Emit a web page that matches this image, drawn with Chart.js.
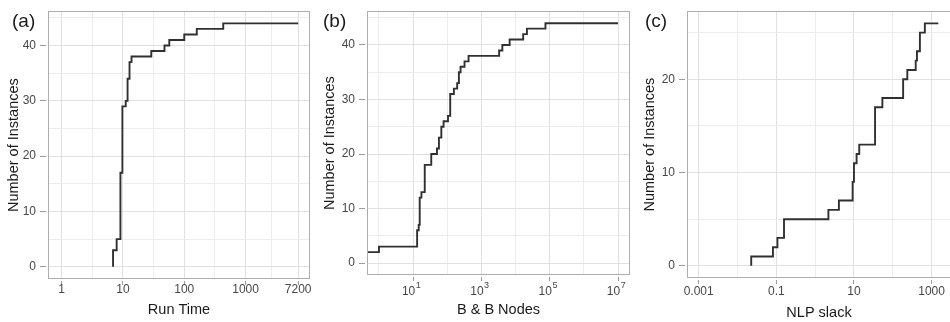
<!DOCTYPE html>
<html>
<head>
<meta charset="utf-8">
<script src="https://cdn.jsdelivr.net/npm/chart.js@4.4.1/dist/chart.umd.min.js"></script>
<style>
  html, body { margin: 0; padding: 0; background: #fff; overflow: hidden; }
  .panel { position: absolute; top: 0; }
  #panelA { left: 0; }
  #panelB { left: 316px; }
  #panelC { left: 634px; }
</style>
</head>
<body>
<div class="panel" id="panelA"><canvas id="chartA" width="316" height="322"></canvas></div>
<div class="panel" id="panelB"><canvas id="chartB" width="318" height="322"></canvas></div>
<div class="panel" id="panelC"><canvas id="chartC" width="320" height="322"></canvas></div>
<script>
// (a) run time (s) at which each further instance is solved
const runTime  = [6.9, 6.9, 7.9, 9.1, 9.8, 11.1, 11.9, 12.8, 13.8, 29, 47.6, 57, 100, 160, 432, 7200];
const runCount = [0, 3, 5, 17, 29, 30, 34, 37, 38, 39, 40, 41, 42, 43, 44, 44];
const runTicks = [1, 10, 100, 1000, 7200];

// (b) branch & bound nodes; zero nodes sit at the left edge of the log axis
const bbNodes = [0, 1, 13.1, 14.6, 15.6, 17.5, 21.9, 34, 50, 57, 67, 78, 105, 122, 156, 195, 219, 245, 320, 420,
                 3300, 4100, 6700, 16700, 21500, 75000, 1e7];
const bbCount = [2, 3, 6, 7, 12, 13, 18, 20, 21, 23, 25, 26, 27, 31, 32, 33, 35, 36, 37, 38,
                 39, 40, 41, 42, 43, 44, 44];
const bbTicks = [1e1, 1e3, 1e5, 1e7];

// (c) NLP slack
const slack      = [0.0226, 0.0226, 0.082, 0.107, 0.158, 2.2, 4.1, 9.25, 10, 11.7, 13.7, 35, 54, 185, 237, 390, 420, 500, 670, 1490];
const slackCount = [0, 1, 2, 3, 5, 6, 7, 9, 11, 12, 13, 17, 18, 20, 21, 22, 23, 25, 26, 26];
const slackTicks = [0.001, 0.1, 10, 1000];

const countTicks  = [0, 10, 20, 30, 40];
const countTicksC = [0, 10, 20];

const FONT = '"Liberation Sans", Arial, sans-serif';
const GRID_MAJOR = '#e0e0e0';
const GRID_MINOR = '#ededed';
const TICK = '#9c9c9c';
const TEXT = '#474747';
const TITLE = '#1a1a1a';

// minor breaks halfway between majors (in log space for log axes), like ggplot
function withMinors(major, lo, hi, log) {
  const f = log ? Math.log10 : (v => v);
  const g = log ? (v => Math.pow(10, v)) : (v => v);
  const m = major.map(f);
  const out = major.slice();
  for (let i = 0; i < m.length - 1; i++) out.push(g((m[i] + m[i + 1]) / 2));
  out.push(g(m[0] - (m[1] - m[0]) / 2));
  out.push(g(m[m.length - 1] + (m[m.length - 1] - m[m.length - 2]) / 2));
  return out.filter(v => v > lo && v < hi).sort((a, b) => a - b);
}

const panelFrame = {
  id: 'panelFrame',
  afterDraw(chart, args, o) {
    const { ctx, chartArea } = chart;
    const l = Math.round(chartArea.left) + 0.5, t = Math.round(chartArea.top) + 0.5;
    const r = Math.round(chartArea.right) - 0.5, b = Math.round(chartArea.bottom) - 0.5;
    ctx.save();
    ctx.strokeStyle = '#adadad';
    ctx.lineWidth = 1;
    ctx.strokeRect(l, t, r - l, b - t);

    ctx.fillStyle = TITLE;
    ctx.font = '19px ' + FONT;
    ctx.textAlign = 'left';
    ctx.textBaseline = 'middle';
    ctx.fillText(o.tag, o.tagX, 22);

    // powers of ten for the node axis
    if (o.powers) {
      const xs = chart.scales.x;
      ctx.fillStyle = TEXT;
      o.powers.forEach(v => {
        const e = String(Math.round(Math.log10(v)));
        const px = xs.getPixelForValue(v);
        ctx.font = '12px ' + FONT;
        const wb = ctx.measureText('10').width;
        ctx.font = '9px ' + FONT;
        const ws = ctx.measureText(e).width;
        const x0 = px - (wb + ws) / 2 - 2;
        ctx.font = '12px ' + FONT;
        ctx.fillText('10', x0, o.powerY);
        ctx.font = '9px ' + FONT;
        ctx.fillText(e, x0 + wb + 0.5, o.powerY - 6);
      });
    }
    ctx.restore();
  }
};

function drawPanel(id, p) {
  const xAll = withMinors(p.xTicks, p.xMin, p.xMax, true);
  const yAll = withMinors(p.yTicks, p.yMin, p.yMax, false);
  const majX = v => p.xTicks.includes(v);
  const majY = v => p.yTicks.includes(v);
  const points = p.xs.map((x, i) => ({ x: x > 0 ? x : p.xMin, y: p.ys[i] }));

  new Chart(document.getElementById(id), {
    type: 'line',
    data: {
      datasets: [{
        data: points,
        stepped: 'before',
        borderColor: '#303030',
        borderWidth: 1.9,
        pointRadius: 0,
        fill: false
      }]
    },
    options: {
      responsive: false,
      animation: false,
      events: [],
      layout: { padding: { top: p.top, right: p.right, left: 0, bottom: 0 } },
      plugins: {
        legend: { display: false },
        tooltip: { enabled: false },
        panelFrame: { tag: p.tag, tagX: p.tagX, powers: p.powers, powerY: p.powerY }
      },
      scales: {
        x: {
          type: 'logarithmic',
          min: p.xMin,
          max: p.xMax,
          afterBuildTicks: s => { s.ticks = xAll.map(v => ({ value: v })); },
          afterFit: s => { s.height = p.bottom; },
          border: { display: false },
          grid: {
            color: c => majX(c.tick.value) ? GRID_MAJOR : GRID_MINOR,
            tickColor: c => majX(c.tick.value) ? TICK : 'rgba(0,0,0,0)',
            tickLength: 6,
            tickBorderDash: [0, 2, 4, 50]
          },
          ticks: {
            autoSkip: false,
            maxRotation: 0,
            padding: p.xTickPad,
            color: TEXT,
            font: { family: FONT, size: 12 },
            callback: v => (!p.powers && majX(v)) ? String(v) : ''
          },
          title: {
            display: true,
            text: p.xTitle,
            color: TITLE,
            font: { family: FONT, size: 14.5 },
            padding: { top: 0, bottom: p.xTitlePad }
          }
        },
        y: {
          min: p.yMin,
          max: p.yMax,
          afterBuildTicks: s => { s.ticks = yAll.map(v => ({ value: v })); },
          afterFit: s => { s.width = p.yWidth; },
          border: { display: false },
          grid: {
            color: c => majY(c.tick.value) ? GRID_MAJOR : GRID_MINOR,
            tickColor: c => majY(c.tick.value) ? TICK : 'rgba(0,0,0,0)',
            tickLength: 8,
            tickBorderDash: [6, 50]
          },
          ticks: {
            autoSkip: false,
            padding: 4,
            color: TEXT,
            font: { family: FONT, size: 12 },
            callback: v => majY(v) ? String(v) : ''
          },
          title: {
            display: true,
            text: 'Number of Instances',
            color: TITLE,
            font: { family: FONT, size: 14.5 },
            padding: { top: p.yTitlePad, bottom: 0 }
          }
        }
      }
    },
    plugins: [panelFrame]
  });
}

drawPanel('chartA', {
  xs: runTime, ys: runCount, xTicks: runTicks, yTicks: countTicks,
  xMin: Math.pow(10, -0.193), xMax: Math.pow(10, 4.05), yMin: -2.2, yMax: 46.2,
  top: 10, right: 6, bottom: 43, yWidth: 48,
  xTickPad: -3, xTitlePad: 3.4, yTitlePad: 4.9,
  xTitle: 'Run Time', tag: '(a)', tagX: 12
});

drawPanel('chartB', {
  xs: bbNodes, ys: bbCount, xTicks: bbTicks, yTicks: countTicks,
  xMin: Math.pow(10, -0.35), xMax: Math.pow(10, 7.35), yMin: -2.2, yMax: 46.2,
  top: 10, right: 4, bottom: 47, yWidth: 51,
  xTickPad: 0, xTitlePad: 3.4, yTitlePad: 5.4,
  xTitle: 'B & B Nodes', tag: '(b)', tagX: 7,
  powers: bbTicks, powerY: 291.5
});

// right edge of this panel falls just past the page border
drawPanel('chartC', {
  xs: slack, ys: slackCount, xTicks: slackTicks, yTicks: countTicksC,
  xMin: Math.pow(10, -3.3), xMax: Math.pow(10, 3.5), yMin: -1.3, yMax: 27.3,
  top: 9, right: 3, bottom: 44, yWidth: 53,
  xTickPad: 0, xTitlePad: 0, yTitlePad: 7.4,
  xTitle: 'NLP slack', tag: '(c)', tagX: 11
});
</script>
</body>
</html>
